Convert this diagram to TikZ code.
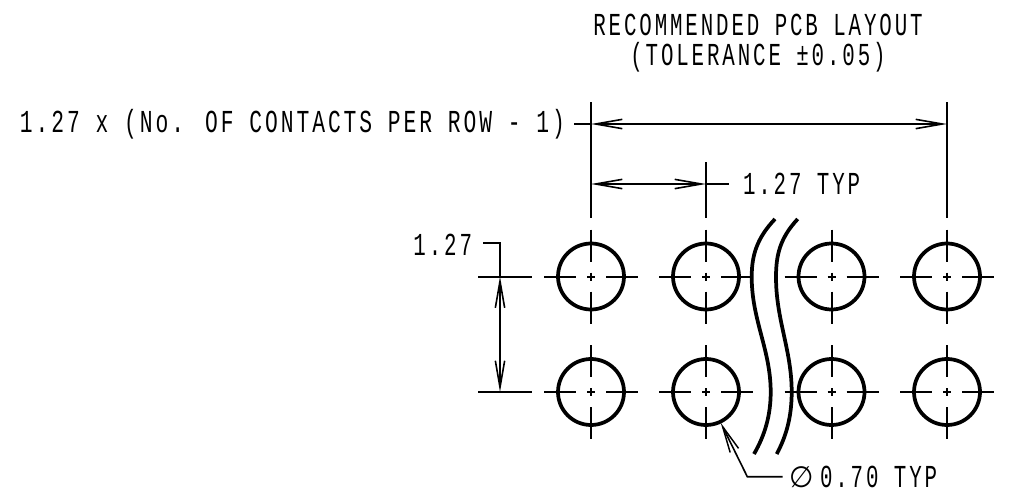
\documentclass[tikz,border=0pt]{standalone}
\usepackage{fontspec}
\usetikzlibrary{arrows.meta}
\newfontfamily\cadfont[FakeStretch=0.65,LetterSpace=9]{Liberation Mono}
\newfontfamily\symfont{DejaVu Sans}
\tikzset{
  x=0.75pt,y=-0.75pt,
  thinline/.style={line width=1.5pt,black},
  padcircle/.style={circle,draw,line width=2.8pt,minimum size=49.5pt,inner sep=0pt,outer sep=0pt},
  breakline/.style={line width=2.8pt,black},
  dimarrow/.style={thinline,{Straight Barb[length=20pt,width=7pt,line width=1.2pt]}-{Straight Barb[length=20pt,width=7pt,line width=1.2pt]}},
  leadarrow/.style={line width=1.2pt,black,{Straight Barb[length=20pt,width=7pt,line width=1.1pt]}-},
  cadtext/.style={font=\cadfont\fontsize{24}{28}\selectfont,inner sep=0pt,outer sep=0pt,text=black},
}
\begin{document}
\begin{tikzpicture}
\useasboundingbox (0,0) rectangle (1018,493);
% pads
\foreach \n/\cx in {a/591,b/706,c/831.5,d/947}{
  \foreach \m/\cy in {t/276.5,u/392}{
    \node[padcircle] (\n\m) at (\cx,\cy) {};
    \draw[thinline] ([xshift=-47*.75pt]\n\m.center) -- ([xshift=-15*.75pt]\n\m.center);
    \draw[thinline] ([xshift=-4*.75pt]\n\m.center) -- ([xshift=4*.75pt]\n\m.center);
    \draw[thinline] ([xshift=15*.75pt]\n\m.center) -- ([xshift=47*.75pt]\n\m.center);
    \draw[thinline] ([yshift=47*.75pt]\n\m.center) -- ([yshift=15*.75pt]\n\m.center);
    \draw[thinline] ([yshift=4*.75pt]\n\m.center) -- ([yshift=-4*.75pt]\n\m.center);
    \draw[thinline] ([yshift=-15*.75pt]\n\m.center) -- ([yshift=-47*.75pt]\n\m.center);
  }
}
% extension lines
\coordinate (ea1) at (591,102); \coordinate (ea2) at (591,218);
\coordinate (ed1) at (947,102); \coordinate (ed2) at (947,218);
\coordinate (eb1) at (706,162); \coordinate (eb2) at (706,218);
\draw[thinline] (ea1) -- (ea2);
\draw[thinline] (ed1) -- (ed2);
\draw[thinline] (eb1) -- (eb2);
% left extension lines
\coordinate (l1a) at (478,276.5); \coordinate (l1b) at (532,276.5);
\coordinate (l2a) at (478,392); \coordinate (l2b) at (532,392);
\draw[thinline] (l1a) -- (l1b);
\draw[thinline] (l2a) -- (l2b);
% labels
\node[cadtext] (title1) at (758,25) {RECOMMENDED PCB LAYOUT};
\node[cadtext] (title2) at (758,57) {(TOLERANCE ±0.05)};
\node[cadtext,anchor=east] (lbl1) at (565,124) {\scalebox{1.024}[1]{1.27 x (No. OF CONTACTS PER ROW - 1)}};
\node[cadtext,anchor=west] (lbl2) at (743,184) {1.27 TYP};
\node[cadtext,anchor=east] (lbl3) at (472,245) {1.27};
\node[cadtext,anchor=west] (lbl4) at (820,477) {0.70 TYP};
\node[inner sep=0pt,font=\symfont\fontsize{21}{24}\selectfont] (phi) at (802,477) {\scalebox{1}[1.05]{∅}};
% dimensions
\coordinate (d1s) at (574,124); \coordinate (d1a) at (591,124); \coordinate (d1b) at (947,124);
\draw[thinline] (d1s) -- (d1a);
\draw[dimarrow] (d1a) -- (d1b);
\coordinate (d2a) at (591,184); \coordinate (d2b) at (706,184); \coordinate (d2e) at (729,184);
\draw[dimarrow] (d2a) -- (d2b);
\draw[thinline] (d2b) -- (d2e);
\coordinate (d3s) at (483,243); \coordinate (d3k) at (500,243); \coordinate (d3a) at (500,276.5); \coordinate (d3b) at (500,392);
\draw[thinline] (d3s) -- (d3k) -- (d3a);
\draw[dimarrow] (d3a) -- (d3b);
% leader
\coordinate (la) at (720.7,422.7); \coordinate (lk) at (747.3,476.7); \coordinate (le) at (782.7,476.7);
\draw[leadarrow] (la) -- (lk) -- (le);
% break lines
\draw[breakline] (775,219) .. controls (757,238) and (751.7,255) .. (751.7,277) .. controls (751.7,320) and (770.7,350) .. (770.7,392) .. controls (770.7,415) and (765,435) .. (754,454);
\draw[breakline] (797.7,219) .. controls (780,238) and (776,255) .. (776,277) .. controls (776,320) and (791.7,350) .. (791.7,392) .. controls (791.7,415) and (787,435) .. (776.7,454);
\end{tikzpicture}
\end{document}
